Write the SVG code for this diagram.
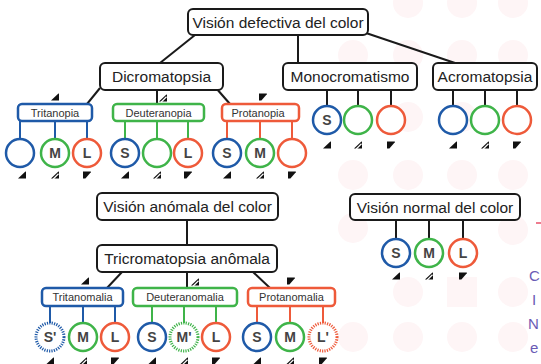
<svg xmlns="http://www.w3.org/2000/svg" xmlns:xlink="http://www.w3.org/1999/xlink" width="541" height="364" viewBox="0 0 541 364">
<style>
.box{fill:#fff;stroke:#1a1a1a;stroke-width:2;}
.bl{fill:#fff;stroke:#1f5aa8;stroke-width:2.5;}
.gr{fill:#fff;stroke:#3fb449;stroke-width:2.5;}
.rd{fill:#fff;stroke:#ee5a3a;stroke-width:2.5;}
.dash{stroke-dasharray:1.2 1.2;stroke-width:3;}
.t{font-family:"Liberation Sans",Arial,sans-serif;font-size:15.5px;fill:#222;text-anchor:middle;}
.s{font-family:"Liberation Sans",Arial,sans-serif;font-size:11px;fill:#333;text-anchor:middle;}
.c{font-family:"Liberation Sans",Arial,sans-serif;font-size:14px;font-weight:bold;fill:#444;text-anchor:middle;}
.k{stroke:#1a1a1a;stroke-width:2;fill:none;}
.lb{stroke:#1f5aa8;stroke-width:2;}
.lg{stroke:#3fb449;stroke-width:2;}
.lr{stroke:#ee5a3a;stroke-width:2;}
.dot{fill:#fef5f6;}
.side{font-family:"Liberation Sans",Arial,sans-serif;font-size:15px;fill:#6a5bb5;}
</style>
<defs>
<path id="tri" d="M-4,3.5 L3.4,-3.5 Q4,-3.8 4,-3 L4,3.5 Z" fill="#111"/>
<g id="sla"><path d="M-4,3.5 L3.4,-3.5 Q4,-3.8 4,-3 L4,3.5 Z" fill="#111"/><path d="M-1.8,4 L3.5,-1.2" stroke="#fff" stroke-width="1.2"/></g>
<path id="flg" d="M-4,-3.5 L3.5,-3.5 Q4.2,-3.5 3.8,-2.8 L-1.6,3.5 L-4,3.5 Z" fill="#111"/>
</defs>

<g id="background">
<circle class="dot" cx="408" cy="3" r="15"/><circle class="dot" cx="462" cy="3" r="15"/><circle class="dot" cx="513" cy="3" r="15"/>
<circle class="dot" cx="353" cy="55" r="15"/><circle class="dot" cx="408" cy="55" r="15"/><circle class="dot" cx="462" cy="55" r="15"/><circle class="dot" cx="513" cy="55" r="15"/>
<circle class="dot" cx="408" cy="117" r="15"/><circle class="dot" cx="462" cy="117" r="15"/>
<circle class="dot" cx="353" cy="175" r="15"/><circle class="dot" cx="408" cy="175" r="15"/><circle class="dot" cx="462" cy="175" r="15"/><circle class="dot" cx="513" cy="175" r="15"/>
<circle class="dot" cx="353" cy="228" r="15"/><circle class="dot" cx="513" cy="230" r="15"/>
<circle class="dot" cx="408" cy="292" r="15"/><rect class="dot" x="447" y="277" width="30" height="30"/><circle class="dot" cx="513" cy="292" r="15"/>
<circle class="dot" cx="353" cy="337" r="15"/><circle class="dot" cx="408" cy="337" r="15"/><circle class="dot" cx="462" cy="337" r="15"/><circle class="dot" cx="513" cy="337" r="15"/>
</g>

<g id="connectors">
<line class="k" x1="195" y1="35" x2="160" y2="63"/>
<line class="k" x1="298" y1="35" x2="298" y2="63"/>
<line class="k" x1="366" y1="33" x2="455" y2="63"/>
<line class="k" x1="100" y1="88" x2="87" y2="104"/>
<line class="k" x1="157" y1="90" x2="157" y2="104"/>
<line class="k" x1="216" y1="88" x2="230" y2="104"/>
<line class="lb" x1="20" y1="121" x2="20" y2="139"/><line class="lb" x1="55" y1="121" x2="55" y2="139"/><line class="lb" x1="87" y1="121" x2="87" y2="139"/>
<line class="lg" x1="125" y1="121" x2="125" y2="139"/><line class="lg" x1="157" y1="121" x2="157" y2="139"/><line class="lg" x1="188" y1="121" x2="188" y2="139"/>
<line class="lr" x1="227" y1="121" x2="227" y2="139"/><line class="lr" x1="260" y1="121" x2="260" y2="139"/><line class="lr" x1="292" y1="121" x2="292" y2="139"/>
<line class="k" x1="327" y1="90" x2="327" y2="106"/><line class="k" x1="358" y1="90" x2="358" y2="106"/><line class="k" x1="391" y1="90" x2="391" y2="106"/>
<line class="k" x1="453" y1="90" x2="453" y2="106"/><line class="k" x1="485" y1="90" x2="485" y2="106"/><line class="k" x1="517" y1="90" x2="517" y2="106"/>
<line class="k" x1="187" y1="220" x2="187" y2="245"/>
<line class="k" x1="122" y1="272" x2="107" y2="288"/>
<line class="k" x1="187" y1="272" x2="187" y2="288"/>
<line class="k" x1="253" y1="272" x2="270" y2="288"/>
<line class="lb" x1="50" y1="306" x2="50" y2="323"/><line class="lb" x1="83" y1="306" x2="83" y2="323"/><line class="lb" x1="115" y1="306" x2="115" y2="323"/>
<line class="lg" x1="152" y1="306" x2="152" y2="323"/><line class="lg" x1="184" y1="306" x2="184" y2="323"/><line class="lg" x1="216" y1="306" x2="216" y2="323"/>
<line class="lr" x1="257" y1="306" x2="257" y2="323"/><line class="lr" x1="290" y1="306" x2="290" y2="323"/><line class="lr" x1="323" y1="306" x2="323" y2="323"/>
<line class="k" x1="396" y1="220" x2="396" y2="239"/><line class="k" x1="429" y1="220" x2="429" y2="239"/><line class="k" x1="463" y1="220" x2="463" y2="239"/>
</g>

<g id="vision-defectiva"><rect class="box" x="188" y="9" width="180" height="26" rx="5"/><text class="t" x="278" y="27.5">Visión defectiva del color</text></g>
<g id="dicromatopsia"><rect class="box" x="100" y="63" width="123" height="27" rx="5"/><text class="t" x="161.5" y="82">Dicromatopsia</text></g>
<g id="monocromatismo"><rect class="box" x="283" y="63" width="134" height="27" rx="5"/><text class="t" x="350" y="82">Monocromatismo</text></g>
<g id="acromatopsia"><rect class="box" x="433" y="63" width="104" height="27" rx="5"/><text class="t" x="485" y="82">Acromatopsia</text></g>

<g id="tritanopia"><rect class="bl" x="18" y="104" width="74" height="17" rx="4"/><text class="s" x="55" y="116.5">Tritanopia</text>
<circle class="bl" cx="20" cy="153" r="14"/><circle class="gr" cx="55" cy="153" r="14"/><text class="c" x="55" y="158">M</text><circle class="rd" cx="87" cy="153" r="14"/><text class="c" x="87" y="158">L</text></g>
<g id="deuteranopia"><rect class="gr" x="113" y="104" width="91" height="17" rx="4"/><text class="s" x="158.5" y="116.5">Deuteranopia</text>
<circle class="bl" cx="125" cy="153" r="14"/><text class="c" x="125" y="158">S</text><circle class="gr" cx="157" cy="153" r="14"/><circle class="rd" cx="188" cy="153" r="14"/><text class="c" x="188" y="158">L</text></g>
<g id="protanopia"><rect class="rd" x="222" y="104" width="77" height="17" rx="4"/><text class="s" x="258" y="116.5">Protanopia</text>
<circle class="bl" cx="227" cy="153" r="14"/><text class="c" x="227" y="158">S</text><circle class="gr" cx="260" cy="153" r="14"/><text class="c" x="260" y="158">M</text><circle class="rd" cx="292" cy="153" r="14"/></g>

<g id="mono-cones"><circle class="bl" cx="327" cy="120" r="14"/><text class="c" x="327" y="125">S</text><circle class="gr" cx="358" cy="120" r="14"/><circle class="rd" cx="391" cy="120" r="14"/></g>
<g id="acro-cones"><circle class="bl" cx="453" cy="120" r="14"/><circle class="gr" cx="485" cy="120" r="14"/><circle class="rd" cx="517" cy="120" r="14"/></g>

<g id="vision-anomala"><rect class="box" x="97" y="193" width="181" height="27" rx="5"/><text class="t" x="187.5" y="212">Visión anómala del color</text></g>
<g id="tricromatopsia"><rect class="box" x="97" y="245" width="180" height="27" rx="5"/><text class="t" x="187" y="264">Tricromatopsia anômala</text></g>
<g id="tritanomalia"><rect class="bl" x="42" y="288" width="81" height="18" rx="4"/><text class="s" x="82.5" y="301">Tritanomalia</text>
<circle class="bl dash" cx="50" cy="337" r="14"/><text class="c" x="50" y="342">S'</text><circle class="gr" cx="83" cy="337" r="14"/><text class="c" x="83" y="342">M</text><circle class="rd" cx="115" cy="337" r="14"/><text class="c" x="115" y="342">L</text></g>
<g id="deuteranomalia"><rect class="gr" x="133" y="288" width="104" height="18" rx="4"/><text class="s" x="185" y="301">Deuteranomalia</text>
<circle class="bl" cx="152" cy="337" r="14"/><text class="c" x="152" y="342">S</text><circle class="gr dash" cx="184" cy="337" r="14"/><text class="c" x="184" y="342">M'</text><circle class="rd" cx="216" cy="337" r="14"/><text class="c" x="216" y="342">L</text></g>
<g id="protanomalia"><rect class="rd" x="248" y="288" width="87" height="18" rx="4"/><text class="s" x="291.5" y="301">Protanomalia</text>
<circle class="bl" cx="257" cy="337" r="14"/><text class="c" x="257" y="342">S</text><circle class="gr" cx="290" cy="337" r="14"/><text class="c" x="290" y="342">M</text><circle class="rd dash" cx="323" cy="337" r="14"/><text class="c" x="323" y="342">L'</text></g>

<g id="vision-normal"><rect class="box" x="350" y="194" width="170" height="26" rx="5"/><text class="t" x="435" y="212.5">Visión normal del color</text>
<circle class="bl" cx="396" cy="253" r="14"/><text class="c" x="396" y="258">S</text><circle class="gr" cx="429" cy="253" r="14"/><text class="c" x="429" y="258">M</text><circle class="rd" cx="463" cy="253" r="14"/><text class="c" x="463" y="258">L</text></g>

<g id="icons">
<use xlink:href="#tri" x="55" y="97"/><use xlink:href="#sla" x="163" y="98"/><use xlink:href="#flg" x="263" y="97"/>
<use xlink:href="#tri" x="22" y="175"/><use xlink:href="#sla" x="55" y="175"/><use xlink:href="#flg" x="87" y="175"/>
<use xlink:href="#tri" x="125" y="175"/><use xlink:href="#sla" x="157" y="175"/><use xlink:href="#flg" x="188" y="175"/>
<use xlink:href="#tri" x="227" y="175"/><use xlink:href="#sla" x="260" y="175"/><use xlink:href="#flg" x="292" y="175"/>
<use xlink:href="#tri" x="327" y="145"/><use xlink:href="#sla" x="358" y="145"/><use xlink:href="#flg" x="391" y="145"/>
<use xlink:href="#tri" x="453" y="145"/><use xlink:href="#sla" x="485" y="145"/><use xlink:href="#flg" x="517" y="145"/>
<use xlink:href="#tri" x="396" y="276"/><use xlink:href="#sla" x="429" y="276"/><use xlink:href="#flg" x="463" y="276"/>
<use xlink:href="#tri" x="85" y="281"/><use xlink:href="#sla" x="195" y="282"/><use xlink:href="#flg" x="291" y="281"/>
<use xlink:href="#tri" x="50" y="361"/><use xlink:href="#sla" x="83" y="361"/><use xlink:href="#flg" x="115" y="361"/>
<use xlink:href="#tri" x="152" y="361"/><use xlink:href="#sla" x="184" y="361"/><use xlink:href="#flg" x="216" y="361"/>
<use xlink:href="#tri" x="257" y="361"/><use xlink:href="#sla" x="290" y="361"/><use xlink:href="#flg" x="323" y="361"/>
</g>

<g id="side-fragments">
<line x1="536" y1="223" x2="541" y2="223" stroke="#e8506a" stroke-width="1.5"/>
<text class="side" x="529" y="281">C</text>
<text class="side" x="532" y="305">I</text>
<text class="side" x="528" y="329">N</text>
<text class="side" x="530" y="353">e</text>
</g>
</svg>
